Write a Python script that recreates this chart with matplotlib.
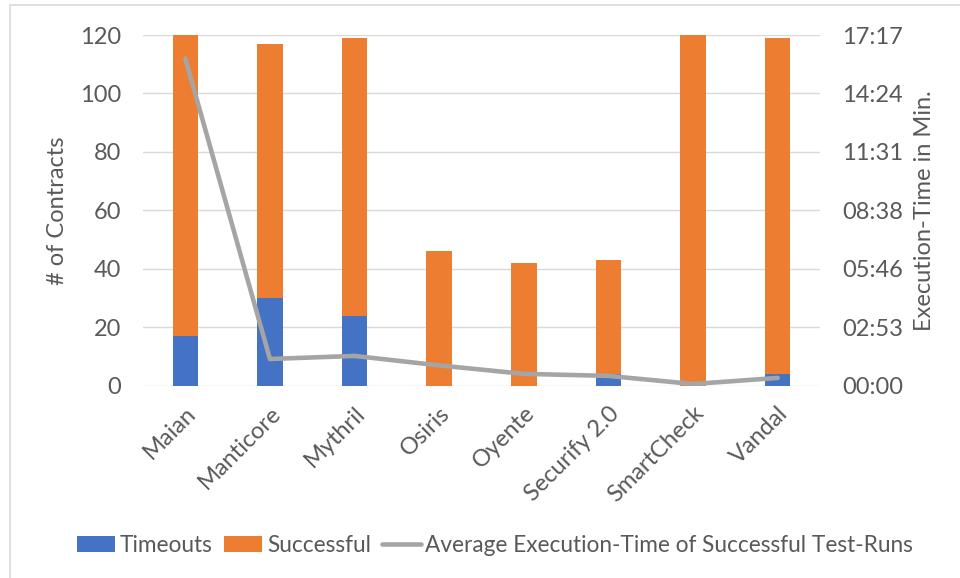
import matplotlib
matplotlib.use("Agg")
import matplotlib.pyplot as plt
from matplotlib.patches import Rectangle
from matplotlib.ticker import FixedLocator, FuncFormatter

tools = ["Maian", "Manticore", "Mythril", "Osiris", "Oyente", "Securify 2.0", "SmartCheck", "Vandal"]
timeouts = [17, 30, 24, 0, 0, 4, 0, 4]
successful = [103, 87, 95, 46, 42, 39, 120, 115]
avg_time_sec = [967, 79, 88, 60, 35, 29, 5, 23]

left_ticks = [0, 20, 40, 60, 80, 100, 120]
right_ticks_sec = [0, 172.8, 345.6, 518.4, 691.2, 864, 1036.8]

TXT = "#595959"
plt.rcParams['font.family'] = ['Lato', 'DejaVu Sans']
FS = 17

fig = plt.figure(figsize=(9.6, 5.78), dpi=100)
fig.patch.set_facecolor("white")
fig.patches.append(Rectangle((10/960, -0.1), 1.2, (578-5)/578 + 0.1, transform=fig.transFigure,
                             fill=False, edgecolor="#D9D9D9", linewidth=1.2))

ax = fig.add_axes([143/960, 1 - 385.7/578, (820-143)/960, (385.7-35)/578])
x = list(range(len(tools)))
w = 0.3
b1 = ax.bar(x, timeouts, width=w, color="#4472C4", label="Timeouts", zorder=2)
b2 = ax.bar(x, successful, width=w, bottom=timeouts, color="#ED7D31", label="Successful", zorder=2)
ax.set_xlim(-0.5, len(tools) - 0.5)
ax.set_ylim(0, 120)
ax.set_yticks(left_ticks)
ax.grid(axis="y", color="#D9D9D9", linewidth=1.0, zorder=0)
ax.set_axisbelow(True)
for s in ax.spines.values():
    s.set_visible(False)
ax.tick_params(axis="both", length=0, colors=TXT, labelsize=FS)
ax.tick_params(axis="y", pad=16)
ax.set_xticks(x)
ax.set_xticklabels(tools, rotation=45, ha="right", rotation_mode="anchor", color=TXT, fontsize=FS)
ax.tick_params(axis="x", pad=12)
ax.set_ylabel("# of Contracts", color=TXT, fontsize=FS, labelpad=8)

ax2 = ax.twinx()
ln, = ax2.plot(x, avg_time_sec, color="#A5A5A5", linewidth=3.3, solid_capstyle="round",
               solid_joinstyle="round", label="Average Execution-Time of Successful Test-Runs", zorder=3)
ax2.set_ylim(0, 1036.8)
ax2.yaxis.set_major_locator(FixedLocator(right_ticks_sec))
def fmt(v, pos):
    s = int(round(v))
    return f"{s // 60:02d}:{s % 60:02d}"
ax2.yaxis.set_major_formatter(FuncFormatter(fmt))
for s in ax2.spines.values():
    s.set_visible(False)
ax2.tick_params(axis="y", length=0, colors=TXT, labelsize=FS, pad=16)
ax2.set_ylabel("Execution-Time in Min.", color=TXT, fontsize=FS, labelpad=8)

leg = fig.legend(handles=[b1, b2, ln], loc="center", bbox_to_anchor=(495/960, 1 - 545/578), ncol=3,
                 frameon=False, fontsize=16.3, handlelength=1.7, handletextpad=0.2, columnspacing=0.5,
                 labelcolor=TXT)

fig.savefig("out.png", dpi=100, facecolor="white")
